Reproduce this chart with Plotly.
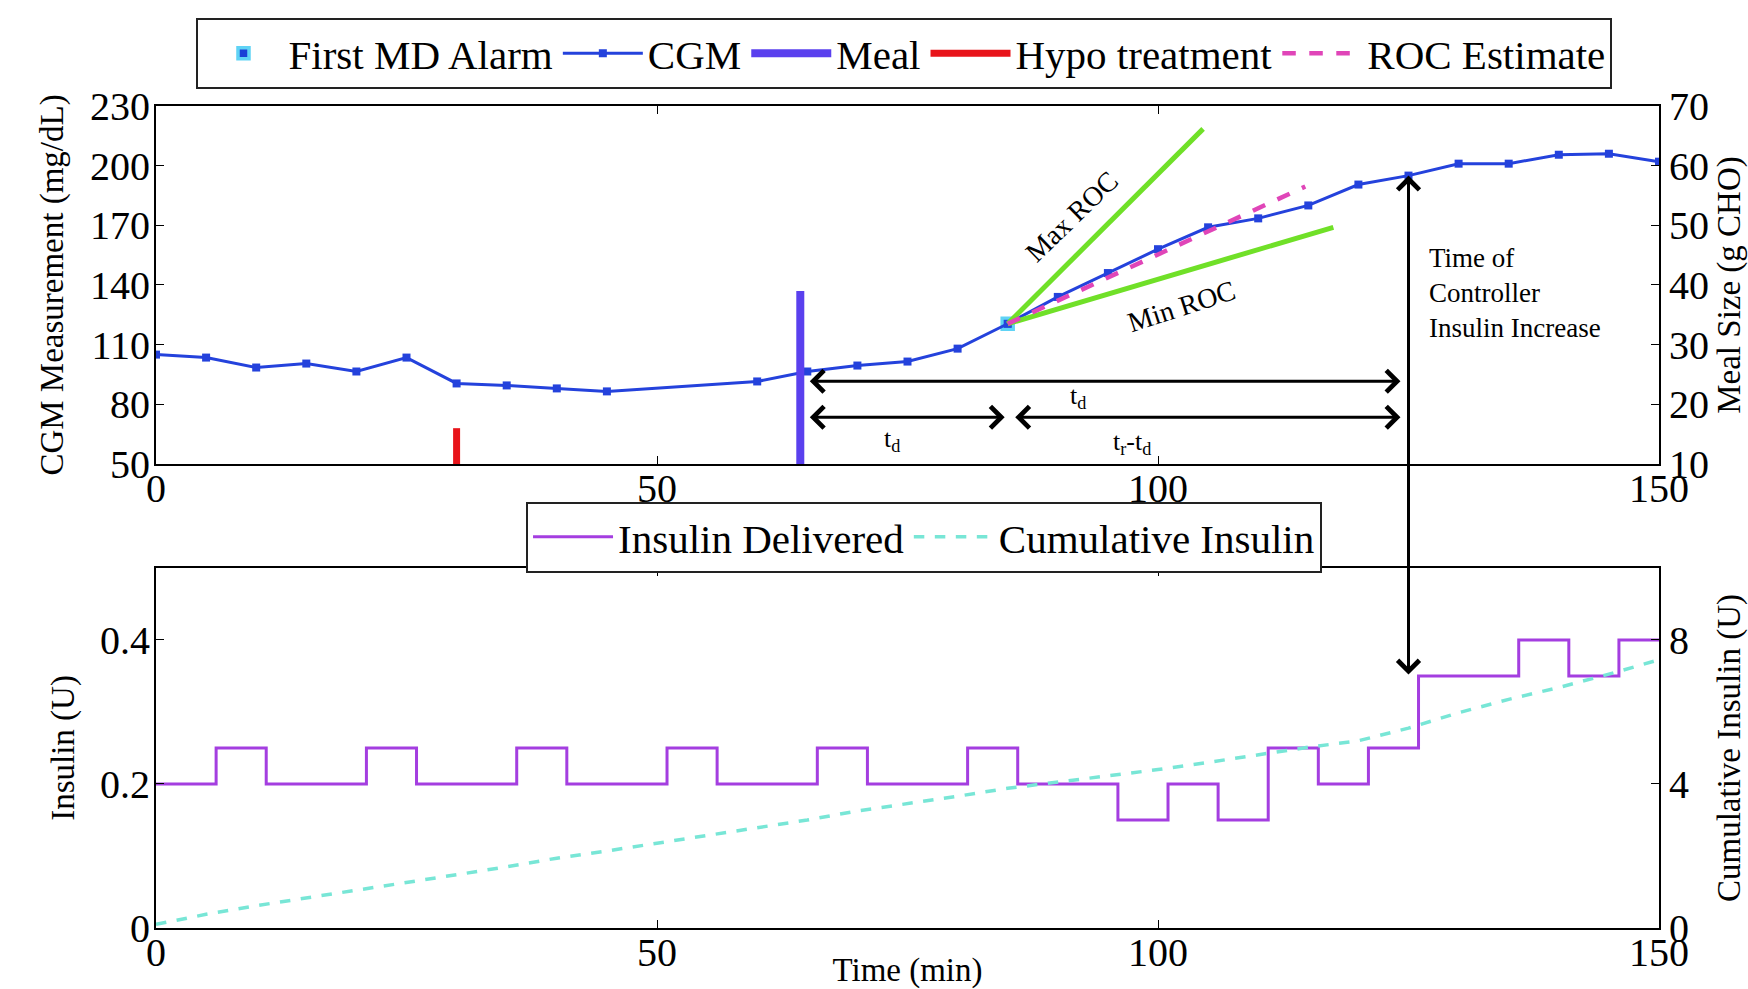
import plotly.graph_objects as go

# ---------------- data ----------------
cgm_t = [0, 5, 10, 15, 20, 25, 30, 35, 40, 45, 60, 65, 70, 75, 80, 85, 90, 95,
         100, 105, 110, 115, 120, 125, 130, 135, 140, 145, 150]
cgm_g = [105, 103.5, 98.5, 100.5, 96.5, 103.5, 90.5, 89.5, 88, 86.5, 91.5, 96.5,
         99.5, 101.5, 108, 120.5, 134, 146, 158, 169, 173.5, 180, 190.5, 195,
         201, 201, 205.5, 206, 202]
alarm_t = [85]
alarm_g = [120.5]
meal_t = [64.3]
meal_size = [39]
hypo_t = [30]
hypo_size = [16]
roc_est_t = [85, 114.7]
roc_est_g = [120.5, 189.5]
max_roc_t = [85, 104.5]
max_roc_g = [120.5, 218.5]
min_roc_t = [85, 117.5]
min_roc_g = [120.5, 169]
increase_t = [125]

ins_t = [0, 6, 11, 16, 21, 26, 31, 36, 41, 46, 51, 56, 61, 66, 71, 76, 81, 86,
         91, 96, 101, 106, 111, 116, 121, 126, 131, 136, 141, 146, 150]
ins_u = [0.2, 0.25, 0.2, 0.2, 0.25, 0.2, 0.2, 0.25, 0.2, 0.2, 0.25, 0.2, 0.2,
         0.25, 0.2, 0.2, 0.25, 0.2, 0.2, 0.15, 0.2, 0.15, 0.25, 0.2, 0.25, 0.35,
         0.35, 0.4, 0.35, 0.4, 0.4]
cum_t = [0, 5, 10, 15, 20, 25, 30, 35, 40, 45, 50, 55, 60, 65, 70, 75, 80, 85,
         90, 95, 100, 105, 110, 115, 120, 125, 130, 135, 140, 145, 150]
cum_u = [0.1, 0.38, 0.62, 0.83, 1.04, 1.26, 1.48, 1.7, 1.94, 2.14, 2.36, 2.58,
         2.78, 3.0, 3.25, 3.45, 3.66, 3.88, 4.05, 4.22, 4.4, 4.6, 4.82, 5.02,
         5.2, 5.55, 5.98, 6.35, 6.68, 7.05, 7.45]

x_ticks = [0, 50, 100, 150]
cgm_ticks = [50, 80, 110, 140, 170, 200, 230]
meal_ticks = [10, 20, 30, 40, 50, 60, 70]
ins_ticks = [0, 0.2, 0.4]
ins_tick_text = ["0", "0.2", "0.4"]
cum_ticks = [0, 4, 8]

# ---------------- style / geometry ----------------
FONT = "Liberation Serif"
W, H = 1748, 989
ML, MR, MT, MB = 156, 89, 106, 61
PH = H - MT - MB
DOM_TOP = [0.5645, 1.0]
DOM_BOT = [0.0, 0.438]
CGM_RANGE = [50, 230]
MEAL_RANGE = [10, 70]
INS_RANGE = [0, 0.5]
CUM_RANGE = [0, 10]


def y_px(val, rng, dom):
    frac = (val - rng[0]) / (rng[1] - rng[0])
    paper = dom[0] + frac * (dom[1] - dom[0])
    return MT + (1 - paper) * PH


fig = go.Figure()

# ---- top panel ----
fig.add_trace(go.Scatter(
    x=alarm_t, y=alarm_g, mode="markers", name="First MD Alarm",
    marker=dict(symbol="square", size=11, color="#1a3fd6",
                line=dict(color="#5fd3f5", width=3.5)),
    xaxis="x", yaxis="y", legend="legend"))
fig.add_trace(go.Scatter(
    x=cgm_t, y=cgm_g, mode="lines+markers", name="CGM",
    line=dict(color="#2442dc", width=3),
    marker=dict(symbol="square", size=8, color="#2442dc"),
    xaxis="x", yaxis="y", legend="legend"))
fig.add_trace(go.Scatter(
    x=[meal_t[0], meal_t[0]], y=[0, meal_size[0]], mode="lines", name="Meal",
    line=dict(color="#5a40ee", width=8),
    xaxis="x", yaxis="y2", legend="legend"))
fig.add_trace(go.Scatter(
    x=[hypo_t[0], hypo_t[0]], y=[0, hypo_size[0]], mode="lines",
    name="Hypo treatment", line=dict(color="#e8141a", width=7),
    xaxis="x", yaxis="y2", legend="legend"))
fig.add_trace(go.Scatter(
    x=max_roc_t, y=max_roc_g, mode="lines", showlegend=False,
    line=dict(color="#70e028", width=5), xaxis="x", yaxis="y"))
fig.add_trace(go.Scatter(
    x=min_roc_t, y=min_roc_g, mode="lines", showlegend=False,
    line=dict(color="#70e028", width=5), xaxis="x", yaxis="y"))
fig.add_trace(go.Scatter(
    x=roc_est_t, y=roc_est_g, mode="lines", name="ROC Estimate",
    line=dict(color="#e045b8", width=4.5, dash="dash"),
    xaxis="x", yaxis="y", legend="legend"))

# ---- bottom panel ----
fig.add_trace(go.Scatter(
    x=ins_t, y=ins_u, mode="lines", name="Insulin Delivered",
    line=dict(color="#a43ee0", width=3, shape="hv"),
    xaxis="x2", yaxis="y3", legend="legend2"))
fig.add_trace(go.Scatter(
    x=cum_t, y=cum_u, mode="lines", name="Cumulative Insulin",
    line=dict(color="#78e6d6", width=3.5, dash="dash"),
    xaxis="x2", yaxis="y4", legend="legend2"))

# ---------------- annotations ----------------
ann = []
arrow_common = dict(showarrow=True, arrowhead=4, startarrowhead=4,
                    arrowsize=1.4, startarrowsize=1.4, arrowwidth=3,
                    arrowcolor="black", arrowside="end+start", text="")
t_meal, t_alarm, t_inc = meal_t[0], alarm_t[0], increase_t[0]
# upper horizontal arrow (meal -> controller increase)
ann.append(dict(xref="x", yref="y", axref="x", ayref="y",
                x=t_inc - 0.8, y=91.6, ax=t_meal + 0.8, ay=91.6, **arrow_common))
# lower arrows
ann.append(dict(xref="x", yref="y", axref="x", ayref="y",
                x=t_alarm - 0.3, y=73.5, ax=t_meal + 0.8, ay=73.5, **arrow_common))
ann.append(dict(xref="x", yref="y", axref="x", ayref="y",
                x=t_inc - 0.8, y=73.5, ax=t_alarm + 0.6, ay=73.5, **arrow_common))
# vertical arrow spanning both panels
g_inc = cgm_g[cgm_t.index(t_inc)]
u_inc = ins_u[ins_t.index(126)]
top_px = y_px(g_inc, CGM_RANGE, DOM_TOP)
bot_px = y_px(u_inc, INS_RANGE, DOM_BOT)
ann.append(dict(xref="x", yref="y", axref="pixel", ayref="pixel",
                x=t_inc, y=g_inc, ax=0, ay=bot_px - top_px, **arrow_common))

lab_font = dict(family=FONT, size=26, color="black")
ann.append(dict(xref="x", yref="y", x=73.5, y=62, text="t<sub>d</sub>",
                showarrow=False, font=lab_font))
ann.append(dict(xref="x", yref="y", x=97.4, y=60.5,
                text="t<sub>r</sub>-t<sub>d</sub>", showarrow=False, font=lab_font))
ann.append(dict(xref="x", yref="y", x=92.0, y=83.5, text="t<sub>d</sub>",
                showarrow=False, font=lab_font))
ann.append(dict(xref="x", yref="y", x=91.4, y=174.3, text="Max ROC",
                textangle=-44, showarrow=False,
                font=dict(family=FONT, size=28, color="black")))
ann.append(dict(xref="x", yref="y", x=102.3, y=129.1, text="Min ROC",
                textangle=-18, showarrow=False,
                font=dict(family=FONT, size=28, color="black")))
ann.append(dict(xref="x", yref="y", x=126.8, y=136, xanchor="left",
                yanchor="middle", align="left",
                text="Time of<br>Controller<br>Insulin Increase",
                showarrow=False,
                font=dict(family=FONT, size=27, color="black")))

# ---------------- axes ----------------
tick_font = dict(family=FONT, size=40, color="black")
title_font = dict(family=FONT, size=33, color="black")
axis_common = dict(showline=True, linecolor="black", linewidth=2,
                   ticks="inside", ticklen=8, tickwidth=1, tickcolor="black",
                   showgrid=False, zeroline=False, tickfont=tick_font,
                   automargin=False)

layout = dict(
    width=W, height=H,
    margin=dict(l=ML, r=MR, t=MT, b=MB, autoexpand=False),
    paper_bgcolor="white", plot_bgcolor="white",
    font=dict(family=FONT, color="black"),
    xaxis=dict(domain=[0, 1], anchor="y", range=[0, 150], tickvals=x_ticks,
               mirror="ticks", ticklabelstandoff=-12, **axis_common),
    yaxis=dict(domain=DOM_TOP, anchor="x", range=CGM_RANGE, tickvals=cgm_ticks,
               mirror=True, ticklabelstandoff=-4,
               title=dict(text="CGM Measurement (mg/dL)", font=title_font,
                          standoff=16), **axis_common),
    yaxis2=dict(overlaying="y", side="right", anchor="x", range=MEAL_RANGE,
                tickvals=meal_ticks,
                title=dict(text="Meal Size (g CHO)", font=title_font,
                           standoff=21), **axis_common),
    xaxis2=dict(domain=[0, 1], anchor="y3", range=[0, 150], tickvals=x_ticks,
                mirror="ticks", ticklabelstandoff=-12,
                title=dict(text="Time (min)", font=title_font, standoff=14),
                **axis_common),
    yaxis3=dict(domain=DOM_BOT, anchor="x2", range=INS_RANGE,
                tickvals=ins_ticks, ticktext=ins_tick_text, mirror=True,
                ticklabelstandoff=-4,
                title=dict(text="Insulin (U)", font=title_font, standoff=15),
                **axis_common),
    yaxis4=dict(overlaying="y3", side="right", anchor="x2", range=CUM_RANGE,
                tickvals=cum_ticks,
                title=dict(text="Cumulative Insulin (U)", font=title_font,
                           standoff=31), **axis_common),
    legend=dict(orientation="h", x=0.498, xanchor="center",
                y=1 + (MT - 53.5) / PH, yanchor="middle",
                bgcolor="white", bordercolor="#222", borderwidth=2,
                font=dict(family=FONT, size=41, color="black"),
                itemwidth=80, tracegroupgap=0),
    legend2=dict(orientation="h", x=0.511, xanchor="center",
                 y=(H - MB - 537) / PH, yanchor="middle",
                 bgcolor="white", bordercolor="#222", borderwidth=2,
                 font=dict(family=FONT, size=41, color="black"),
                 itemwidth=80, tracegroupgap=0),
    annotations=ann,
    showlegend=True,
    hovermode=False,
)
fig.update_layout(**layout)
fig.write_html("out.html",
               config={"displayModeBar": False, "staticPlot": True},
               post_script="document.body.style.margin='0px';")
